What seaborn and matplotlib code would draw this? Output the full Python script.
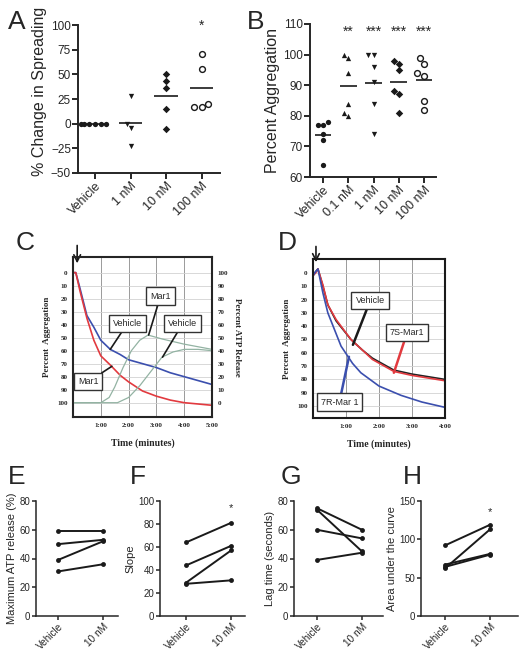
import numpy as np
import pandas as pd
import matplotlib
matplotlib.use('Agg')
import matplotlib.pyplot as plt
import seaborn as sns

# panel A - spreading
a_cats = ['Vehicle', '1 nM', '10 nM', '100 nM']
a_vehicle = [0, 0, 0, 0, 0, 0]
a_1nm = [28, 0, -4, -23]
a_10nm = [50, 43, 36, 15, -5]
a_100nm = [71, 55, 20, 17, 17]

# panel B - aggregation
b_cats = ['Vehicle', '0.1 nM', '1 nM', '10 nM', '100 nM']
b_vehicle = [78, 77, 77, 74, 72, 64]
b_01nm = [100, 99, 94, 84, 80, 81]
b_1nm = [100, 100, 96, 91, 84, 74]
b_10nm = [98, 97, 95, 88, 87, 81]
b_100nm = [99, 97, 94, 93, 85, 82]
b_stars = ['', '**', '***', '***', '***']

# panel C - traces (minutes, percent)
c_time_agg = [0, 0.1, 0.25, 0.5, 0.75, 1.0, 1.34, 1.7, 2.0, 2.5, 3.0, 3.5, 4.0, 4.5, 5.0]
c_vehicle_agg = [0, 0, 12, 33, 42, 52, 59, 63, 67, 70, 73, 77, 80, 83, 86]
c_mar1_agg = [0, 0, 14, 35, 52, 64, 71, 79, 84, 91, 95, 98, 100, 101, 102]
c_time_atp_mar1 = [0, 1.0, 1.3, 1.5, 1.8, 2.1, 2.4, 2.7, 3.2, 4.0, 5.0]
c_mar1_atp = [0, 0, 4, 12, 27, 40, 48, 52, 49, 45, 41]
c_time_atp_veh = [0, 1.6, 2.0, 2.4, 2.8, 3.2, 3.6, 4.0, 4.5, 5.0]
c_vehicle_atp = [0, 0, 4, 13, 24, 35, 39, 41, 41, 40]

# panel D - traces
d_time = [0, 0.08, 0.15, 0.3, 0.45, 0.7, 1.15, 1.5, 1.8, 2.45, 3.0, 3.5, 4.0]
d_vehicle = [2, -1, -3, 10, 24, 36, 50, 58, 64, 73, 76, 78, 80]
d_7s = [2, 0, -3, 9, 24, 35, 50, 58, 65, 74, 77, 79, 81]
d_time_7r = [0, 0.08, 0.15, 0.3, 0.45, 0.85, 1.2, 1.45, 2.0, 2.67, 3.3, 4.0]
d_7r = [2, -1, -3, 15, 30, 55, 68, 75, 85, 92, 97, 101]

# panels E-H - paired
pair_cats = ['Vehicle', '10 nM']
e_vehicle = [59, 50, 39, 31]
e_10nm = [59, 53, 52, 36]
f_vehicle = [64, 44, 29, 28]
f_10nm = [81, 61, 57, 31]
g_vehicle = [75, 74, 60, 39]
g_10nm = [60, 45, 54, 44]
h_vehicle = [92, 62, 67, 64]
h_10nm = [119, 113, 81, 80]

sns.set_theme(style='ticks')
plt.rcParams['font.family'] = ['Liberation Sans', 'DejaVu Sans']
plt.rcParams['axes.linewidth'] = 1.4
plt.rcParams['xtick.major.width'] = 1.4
plt.rcParams['ytick.major.width'] = 1.4
plt.rcParams['xtick.major.size'] = 4
plt.rcParams['ytick.major.size'] = 4

W, H = 522, 655
fig = plt.figure(figsize=(W / 100, H / 100), dpi=100)


def px_axes(l, t, r, b):
    return fig.add_axes([l / W, 1 - b / H, (r - l) / W, (b - t) / H])


def letter(x, y, s):
    fig.text(x / W, 1 - y / H, s, fontsize=19, ha='left', va='center')


def column_scatter(ax, cats, groups, markers, filled):
    for i, (vals, m, f) in enumerate(zip(groups, markers, filled)):
        sns.swarmplot(x=[cats[i]] * len(vals), y=vals, order=cats, ax=ax, marker=m,
                      size=3.8 if f else 4.2, color='k' if f else 'white', edgecolor='k',
                      linewidth=0 if f else 1.0)
        ax.hlines(np.mean(vals), i - 0.33, i + 0.33, color='k', lw=1.2)


def style_prism(ax, ysize=8.5, xsize=9):
    sns.despine(ax=ax)
    ax.tick_params(axis='y', labelsize=ysize, pad=1)
    ax.tick_params(axis='x', labelsize=xsize, pad=1)
    plt.setp(ax.get_xticklabels(), rotation=45, ha='right', rotation_mode='anchor')


# ---- A
ax = px_axes(78, 25, 220, 173)
column_scatter(ax, a_cats, [a_vehicle, a_1nm, a_10nm, a_100nm],
               ['o', 'v', 'D', 'o'], [True, True, True, False])
ax.set_ylim(-50, 100)
ax.set_yticks([-50, -25, 0, 25, 50, 75, 100])
ax.set_xlim(-0.48, 3.52)
ax.set_ylabel('% Change in Spreading', fontsize=11.5, labelpad=2)
ax.yaxis.set_label_coords(-0.22, 0.55)
ax.text(3, 99, '*', ha='center', va='center', fontsize=10)
style_prism(ax)
letter(8, 22, 'A')

# ---- B
ax = px_axes(310, 24, 436, 177)
column_scatter(ax, b_cats, [b_vehicle, b_01nm, b_1nm, b_10nm, b_100nm],
               ['o', '^', 'v', 'D', 'o'], [True, True, True, True, False])
ax.set_ylim(60, 110)
ax.set_yticks([60, 70, 80, 90, 100, 110])
ax.set_xlim(-0.52, 4.48)
ax.set_ylabel('Percent Aggregation', fontsize=11.5)
ax.yaxis.set_label_coords(-0.24, 0.5)
for i, s in enumerate(b_stars):
    ax.text(i, 107.5, s, ha='center', va='center', fontsize=10)
style_prism(ax)
letter(247, 22, 'B')

serif = ['Liberation Serif', 'DejaVu Serif']
blue, red, green = '#3b4fae', '#e23a3f', '#93b3a3'


def trace_frame(ax, tmax, ylim):
    ax.set_xlim(0, tmax)
    ax.set_ylim(*ylim)
    ax.set_xticks(range(1, tmax + 1))
    ax.set_xticklabels(['%d:00' % m for m in range(1, tmax + 1)], family=serif,
                       fontweight='bold', fontsize=5)
    ax.set_yticks(range(0, 101, 10))
    ax.set_yticklabels([str(v) for v in range(0, 101, 10)], family=serif,
                       fontweight='bold', fontsize=5)
    ax.tick_params(length=0, pad=4)
    for x in range(1, tmax):
        ax.axvline(x, color='#9a9a9a', lw=0.7, zorder=0)
    for y in range(0, 101, 10):
        ax.axhline(y, color='#d2d2d2', lw=0.6, zorder=0)
    for sp in ax.spines.values():
        sp.set_linewidth(1.5)
        sp.set_color('k')
    ax.set_xlabel('Time (minutes)', family=serif, fontweight='bold', fontsize=7, labelpad=8)
    ax.set_ylabel('Percent  Aggregation', family=serif, fontweight='bold', fontsize=6.5)


def box_note(ax, text, xy, xytext, color='k', lw=1.2):
    ax.annotate(text, xy=xy, xytext=xytext, fontsize=6.5, ha='center', va='center',
                bbox=dict(boxstyle='square,pad=0.45', fc='white', ec='#333333', lw=1),
                arrowprops=dict(arrowstyle='-', color=color, lw=lw, shrinkA=0, shrinkB=0),
                zorder=5)

# ---- C
ax = px_axes(73, 257, 212, 417)
sns.lineplot(x=c_time_agg, y=c_vehicle_agg, ax=ax, color=blue, lw=1.2, estimator=None)
sns.lineplot(x=c_time_agg, y=c_mar1_agg, ax=ax, color=red, lw=1.2, estimator=None)
trace_frame(ax, 5, (111, -12))
ax2 = ax.twinx()
sns.lineplot(x=c_time_atp_mar1, y=c_mar1_atp, ax=ax2, color=green, lw=0.9, estimator=None)
sns.lineplot(x=c_time_atp_veh, y=c_vehicle_atp, ax=ax2, color=green, lw=0.9, estimator=None)
ax2.set_ylim(-11, 112)
ax2.set_yticks(range(0, 101, 10))
ax2.set_yticklabels([str(v) for v in range(0, 101, 10)], family=serif,
                    fontweight='bold', fontsize=5)
ax2.tick_params(length=0, pad=4)
ax2.set_ylabel('Percent ATP Release', family=serif, fontweight='bold', fontsize=6.5,
               rotation=-90, labelpad=9)
ax2.grid(False)
box_note(ax2, 'Mar1', (2.72, 52), (3.15, 82))
box_note(ax2, 'Vehicle', (3.22, 35), (3.95, 61))
box_note(ax2, 'Vehicle', (1.34, 41), (1.96, 61))
box_note(ax2, 'Mar1', (1.4, 28), (0.54, 16))
ax.annotate('', xy=(0.15, -5), xytext=(0.15, -23), annotation_clip=False,
            arrowprops=dict(arrowstyle='->', color='k', lw=1.2))
letter(16, 243, 'C')

# ---- D
ax = px_axes(313, 259, 445, 418)
sns.lineplot(x=d_time, y=d_vehicle, ax=ax, color='#222222', lw=1.2, estimator=None)
sns.lineplot(x=d_time, y=d_7s, ax=ax, color=red, lw=1.2, estimator=None)
sns.lineplot(x=d_time_7r, y=d_7r, ax=ax, color=blue, lw=1.2, estimator=None)
trace_frame(ax, 4, (109, -10.5))
box_note(ax, 'Vehicle', (1.21, 54), (1.73, 21), color='k', lw=1.8)
box_note(ax, '7S-Mar1', (2.45, 75), (2.85, 45), color=red, lw=1.8)
box_note(ax, '7R-Mar 1', (1.09, 63), (0.8, 97), color=blue, lw=1.8)
ax.annotate('', xy=(0.09, -6), xytext=(0.09, -22), annotation_clip=False,
            arrowprops=dict(arrowstyle='->', color='k', lw=1.2))
letter(278, 243, 'D')


def paired(ax, veh, nm, ylim, ticks, ylabel, xlim, star=None):
    df = pd.DataFrame({'cond': [pair_cats[0]] * len(veh) + [pair_cats[1]] * len(nm),
                       'value': veh + nm,
                       'pair': list(range(len(veh))) * 2})
    sns.lineplot(data=df, x='cond', y='value', units='pair', estimator=None, color='k',
                 marker='o', markersize=3.5, markeredgewidth=0, lw=1.4, sort=False, ax=ax)
    ax.set_ylim(*ylim)
    ax.set_yticks(ticks)
    ax.set_xlim(*xlim)
    ax.set_xlabel('')
    ax.set_ylabel(ylabel, fontsize=8, labelpad=2)
    if star is not None:
        ax.text(1, star, '*', ha='center', va='center', fontsize=8)
    for sp in ['left', 'bottom']:
        ax.spines[sp].set_linewidth(1.1)
    ax.tick_params(width=1.1, length=3)
    style_prism(ax, ysize=7, xsize=7.2)


ax = px_axes(36, 501, 118, 616)
paired(ax, e_vehicle, e_10nm, (0, 80), [0, 20, 40, 60, 80], 'Maximum ATP release (%)',
       (-0.49, 1.33))
letter(8, 477, 'E')

ax = px_axes(160, 501, 245, 616)
paired(ax, f_vehicle, f_10nm, (0, 100), [0, 20, 40, 60, 80, 100], 'Slope',
       (-0.58, 1.31), star=94)
letter(130, 477, 'F')

ax = px_axes(294, 501, 383, 616)
paired(ax, g_vehicle, g_10nm, (0, 80), [0, 20, 40, 60, 80], 'Lag time (seconds)',
       (-0.51, 1.47))
letter(281, 477, 'G')

ax = px_axes(421, 501, 518, 616)
paired(ax, h_vehicle, h_10nm, (0, 150), [0, 50, 100, 150], 'Area under the curve',
       (-0.53, 1.62), star=135)
letter(403, 477, 'H')

fig.savefig('out.png', dpi=100)
